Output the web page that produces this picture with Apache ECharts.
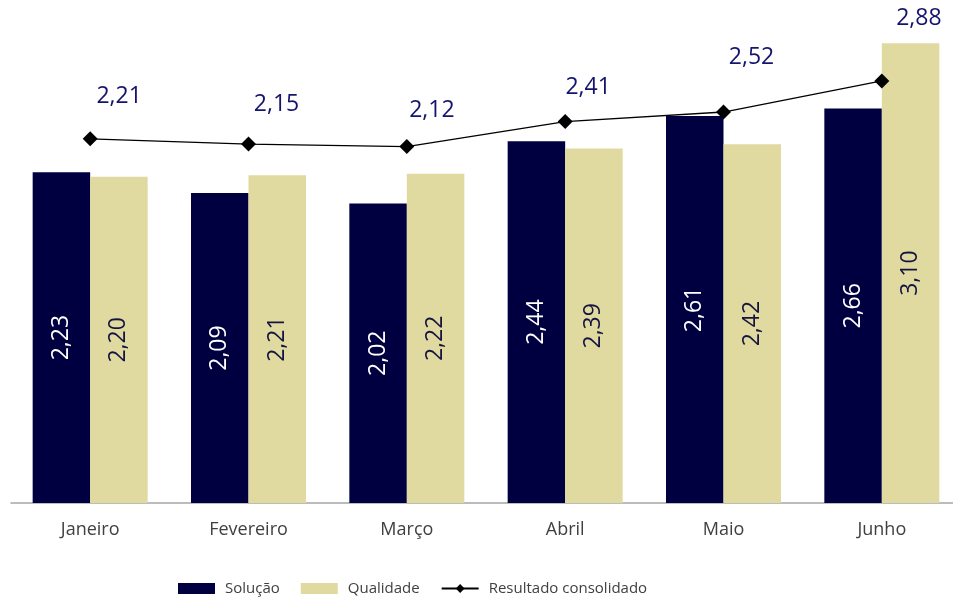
<!DOCTYPE html>
<html>
<head>
<meta charset="utf-8">
<script src="https://cdn.jsdelivr.net/npm/echarts@6/dist/echarts.min.js"></script>
<style>
  html, body { margin: 0; padding: 0; background: #fff; }
  #chart { width: 953px; height: 597px; }
</style>
</head>
<body>
<div id="chart"></div>
<script>
// dados do gráfico
const meses = ["Janeiro", "Fevereiro", "Março", "Abril", "Maio", "Junho"];
const solucao = [2.23, 2.09, 2.02, 2.44, 2.61, 2.66];
const qualidade = [2.20, 2.21, 2.22, 2.39, 2.42, 3.10];
const consolidado = [2.21, 2.15, 2.12, 2.41, 2.52, 2.88];

// deslocamento manual dos rótulos da linha (como no original)
const lineLabelOffset = [[29, -42], [28, -40], [25, -36], [23, -34], [28, -55], [37, -62]];

const FONT = "Open Sans";
const NAVY = "#000040";
const BEIGE = "#e0d9a0";
const fmt = (p) => p.value.toFixed(2).replace(".", ",");

const chart = echarts.init(document.getElementById("chart"));

chart.setOption({
  animation: false,
  textStyle: { fontFamily: FONT },
  grid: { left: 11, right: -8, top: -16, bottom: 94, outerBoundsMode: "none" },
  legend: {
    top: 576,
    left: 173,
    itemWidth: 37,
    itemHeight: 11,
    itemGap: 21,
    textStyle: { fontFamily: FONT, fontSize: 15, color: "#404040", padding: [0, 0, 0, 5] },
    data: [
      { name: "Solução", icon: "rect" },
      { name: "Qualidade", icon: "rect" },
      { name: "Resultado consolidado" },
    ],
  },
  xAxis: {
    type: "category",
    data: meses,
    axisLine: { lineStyle: { color: "#a6a6a6", width: 1.5 } },
    axisTick: { show: false },
    axisLabel: { fontFamily: FONT, fontSize: 18, color: "#404040", margin: 18 },
  },
  yAxis: [
    { type: "value", min: 0, max: 3.5, show: false, splitLine: { show: false } },
    { type: "value", min: -2, max: 4, show: false, splitLine: { show: false } },
  ],
  series: [
    {
      name: "Solução",
      type: "bar",
      data: solucao,
      barWidth: 57.5,
      barGap: "0%",
      itemStyle: { color: NAVY },
      label: {
        show: true,
        position: "inside",
        rotate: 90,
        formatter: fmt,
        fontFamily: FONT,
        fontSize: 23,
        color: "#ffffff",
      },
    },
    {
      name: "Qualidade",
      type: "bar",
      data: qualidade,
      barWidth: 57.5,
      barGap: "0%",
      itemStyle: { color: BEIGE },
      label: {
        show: true,
        position: "inside",
        rotate: 90,
        formatter: fmt,
        fontFamily: FONT,
        fontSize: 23,
        color: "#141440",
      },
    },
    {
      name: "Resultado consolidado",
      type: "line",
      yAxisIndex: 1,
      data: consolidado.map((v, i) => ({ value: v, label: { offset: lineLabelOffset[i] } })),
      symbol: "diamond",
      symbolSize: 15,
      lineStyle: { color: "#000", width: 1.3 },
      itemStyle: { color: "#000" },
      label: {
        show: true,
        position: "inside",
        formatter: fmt,
        fontFamily: FONT,
        fontSize: 23,
        color: "#14146e",
      },
    },
  ],
});
</script>
</body>
</html>
